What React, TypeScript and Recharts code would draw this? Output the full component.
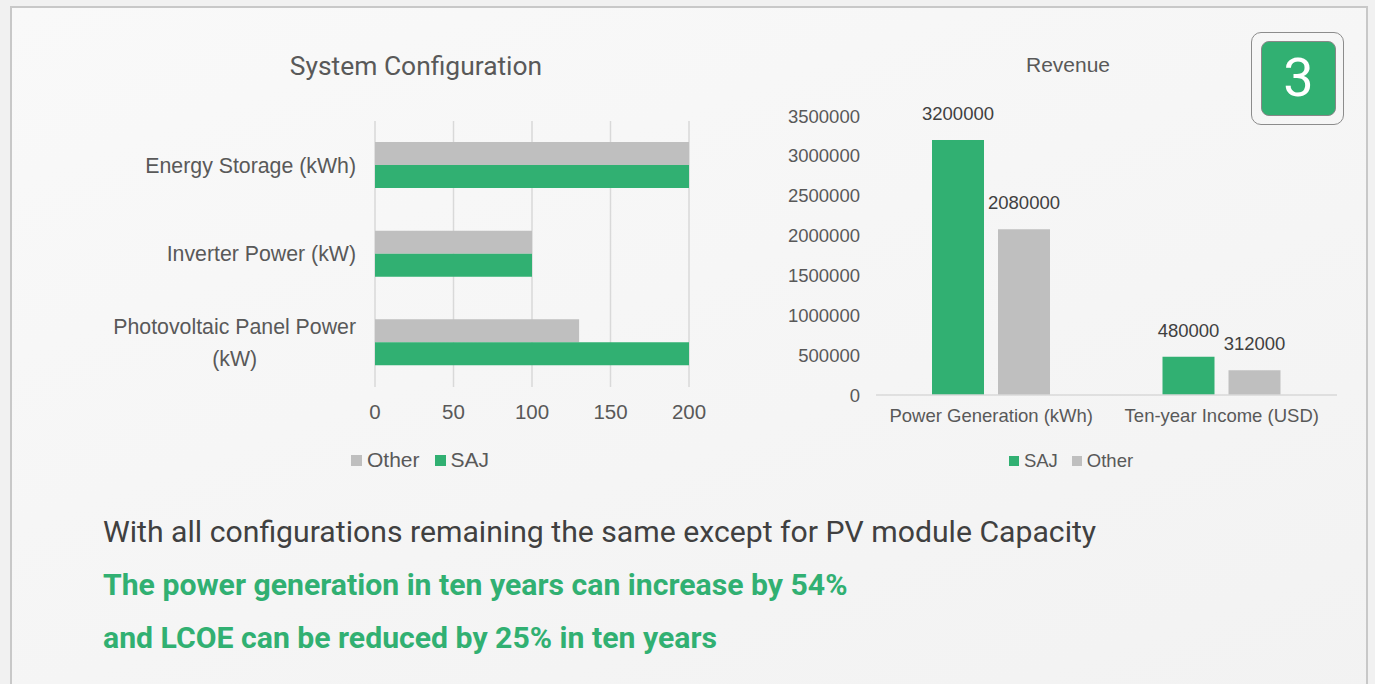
import React from "react";
import { BarChart, Bar, XAxis, YAxis, CartesianGrid, Legend, LabelList } from "recharts";

// System Configuration (horizontal bars)
const configCategories = ["Energy Storage (kWh)", "Inverter Power (kW)", "Photovoltaic Panel Power (kW)"];
const configOther = [200, 100, 130];
const configSaj = [200, 100, 200];
const configTicks = [0, 50, 100, 150, 200];

// Revenue (vertical bars)
const revenueCategories = ["Power Generation (kWh)", "Ten-year Income (USD)"];
const revenueSaj = [3200000, 480000];
const revenueOther = [2080000, 312000];
const revenueTicks = [0, 500000, 1000000, 1500000, 2000000, 2500000, 3000000, 3500000];

const GREEN = "#31b072";
const GRAY = "#bfbfbf";
const TEXT = "#595959";
const ARIAL = '"Liberation Sans", Arial, sans-serif';

const configData = configCategories.map((name, i) => ({ name, other: configOther[i], saj: configSaj[i] }));
const revenueData = revenueCategories.map((name, i) => ({ name, saj: revenueSaj[i], other: revenueOther[i] }));

let ctx: CanvasRenderingContext2D | null = null;
const measure = (s: string, font: string) => {
    if (!ctx) ctx = document.createElement("canvas").getContext("2d");
    if (!ctx) return s.length * 10;
    ctx.font = font;
    return ctx.measureText(s).width;
};

// wrap a category label the way the spreadsheet does
const wrapLabel = (label: string, maxWidth: number, font: string) => {
    const words = label.split(" ");
    const lines: string[] = [];
    let cur = "";
    words.forEach((w) => {
        const next = cur ? cur + " " + w : w;
        if (cur && measure(next, font) > maxWidth) {
            lines.push(cur);
            cur = w;
        } else {
            cur = next;
        }
    });
    if (cur) lines.push(cur);
    return lines;
};

function CategoryTick({ x, y, payload }: any) {
    const size = 21.3;
    const font = `${size}px ${ARIAL}`;
    const lines = wrapLabel(payload.value, 255, font);
    const lineH = 32;
    const startY = y - ((lines.length - 1) * lineH) / 2;
    if (lines.length === 1) {
        return (
            <text x={x} y={y} dy="0.35em" textAnchor="end" fontSize={size} fontFamily={ARIAL} fill={TEXT}>
                {payload.value}
            </text>
        );
    }
    const blockW = Math.max(...lines.map((l) => measure(l, font)));
    return (
        <g>
            {lines.map((l, i) => (
                <text key={i} x={x - blockW / 2} y={startY + i * lineH} dy="0.35em" textAnchor="middle" fontSize={size} fontFamily={ARIAL} fill={TEXT}>
                    {l}
                </text>
            ))}
        </g>
    );
}

function SquareLegend({ items, size, fontSize, gap }: { items: { label: string; color: string }[]; size: number; fontSize: number; gap: number }) {
    return (
        <div style={{ display: "flex", justifyContent: "center", alignItems: "center", fontFamily: ARIAL, fontSize, color: TEXT }}>
            {items.map((it, i) => (
                <div key={it.label} style={{ display: "flex", alignItems: "center", marginLeft: i ? gap : 0 }}>
                    <span style={{ display: "inline-block", width: size, height: size, background: it.color, marginRight: 5 }} />
                    <span>{it.label}</span>
                </div>
            ))}
        </div>
    );
}

export default function App() {
    return (
        <div style={{ position: "absolute", left: 0, top: 0, width: 1375, height: 684, overflow: "hidden", background: "#f1f1f1" }}>
            <div
                style={{
                    position: "absolute",
                    left: 10,
                    top: 6,
                    width: 1354,
                    height: 720,
                    border: "2px solid #c8c8c8",
                    background: "linear-gradient(160deg, #f9f9f9 0%, #f2f2f2 100%)",
                }}
            />

            {/* System Configuration */}
            <div style={{ position: "absolute", left: 216, top: 51, width: 400, textAlign: "center", fontFamily: "Roboto, sans-serif", fontSize: 26.4, color: TEXT }}>
                System Configuration
            </div>
            <div style={{ position: "absolute", left: 0, top: 0 }}>
                <BarChart width={720} height={500} data={configData} layout="vertical" margin={{ top: 121, right: 31, left: 0, bottom: 83 }} barGap={0}>
                    <CartesianGrid horizontal={false} stroke="#d9d9d9" strokeWidth={1.5} />
                    <XAxis
                        type="number"
                        domain={[0, 200]}
                        ticks={configTicks}
                        height={30}
                        axisLine={false}
                        tickLine={false}
                        tickMargin={11}
                        tick={{ fontSize: 20.5, fill: TEXT, fontFamily: ARIAL }}
                    />
                    <YAxis type="category" dataKey="name" width={375} axisLine={false} tickLine={false} tickMargin={13} tick={<CategoryTick />} />
                    <Legend
                        layout="horizontal"
                        verticalAlign="middle"
                        align="center"
                        wrapperStyle={{ left: 270, top: 448, width: 300 }}
                        content={() => (
                            <SquareLegend
                                size={11}
                                fontSize={21}
                                gap={15}
                                items={[
                                    { label: "Other", color: GRAY },
                                    { label: "SAJ", color: GREEN },
                                ]}
                            />
                        )}
                    />
                    <Bar dataKey="other" name="Other" fill={GRAY} barSize={23} isAnimationActive={false} />
                    <Bar dataKey="saj" name="SAJ" fill={GREEN} barSize={23} isAnimationActive={false} />
                </BarChart>
            </div>

            {/* Revenue */}
            <div style={{ position: "absolute", left: 918, top: 53, width: 300, textAlign: "center", fontFamily: ARIAL, fontSize: 21, color: TEXT }}>
                Revenue
            </div>
            <div style={{ position: "absolute", left: 740, top: 0 }}>
                <BarChart width={640} height={500} data={revenueData} margin={{ top: 116, right: 43, left: 0, bottom: 65 }} barGap={14}>
                    <XAxis
                        dataKey="name"
                        height={40}
                        axisLine={{ stroke: "#d9d9d9", strokeWidth: 1.5 }}
                        tickLine={false}
                        tickMargin={8}
                        tick={{ fontSize: 18.5, fill: TEXT, fontFamily: ARIAL }}
                    />
                    <YAxis
                        type="number"
                        domain={[0, 3500000]}
                        ticks={revenueTicks}
                        interval={0}
                        width={136}
                        axisLine={false}
                        tickLine={false}
                        tickMargin={10}
                        tick={{ fontSize: 18.5, fill: TEXT, fontFamily: ARIAL }}
                    />
                    <Legend
                        layout="horizontal"
                        verticalAlign="middle"
                        align="center"
                        wrapperStyle={{ left: 181, top: 450, width: 300 }}
                        content={() => (
                            <SquareLegend
                                size={10}
                                fontSize={18.5}
                                gap={14}
                                items={[
                                    { label: "SAJ", color: GREEN },
                                    { label: "Other", color: GRAY },
                                ]}
                            />
                        )}
                    />
                    <Bar dataKey="saj" name="SAJ" fill={GREEN} barSize={52} isAnimationActive={false}>
                        <LabelList dataKey="saj" position="top" offset={20} fill="#404040" fontSize={18.5} fontFamily={ARIAL} />
                    </Bar>
                    <Bar dataKey="other" name="Other" fill={GRAY} barSize={52} isAnimationActive={false}>
                        <LabelList dataKey="other" position="top" offset={20} fill="#404040" fontSize={18.5} fontFamily={ARIAL} />
                    </Bar>
                </BarChart>
            </div>

            {/* badge */}
            <div style={{ position: "absolute", left: 1251, top: 32, width: 93, height: 93, border: "1.5px solid #8c8c8c", borderRadius: 10, boxSizing: "border-box" }} />
            <div
                style={{
                    position: "absolute",
                    left: 1261,
                    top: 41,
                    width: 75,
                    height: 75,
                    background: GREEN,
                    border: "1px solid #888",
                    borderRadius: 8,
                    boxSizing: "border-box",
                    color: "#fff",
                    fontFamily: "Roboto, sans-serif",
                    fontSize: 54,
                    lineHeight: "71px",
                    textAlign: "center",
                }}
            >
                3
            </div>

            {/* notes */}
            <div style={{ position: "absolute", left: 103, top: 514, fontFamily: "Roboto, sans-serif", fontSize: 30.2, color: "#404040", whiteSpace: "nowrap" }}>
                With all configurations remaining the same except for PV module Capacity
            </div>
            <div style={{ position: "absolute", left: 103, top: 567, fontFamily: "Roboto, sans-serif", fontWeight: 700, fontSize: 30.2, color: GREEN, whiteSpace: "nowrap" }}>
                The power generation in ten years can increase by 54%
            </div>
            <div style={{ position: "absolute", left: 103, top: 620, fontFamily: "Roboto, sans-serif", fontWeight: 700, fontSize: 30.2, color: GREEN, whiteSpace: "nowrap" }}>
                and LCOE can be reduced by 25% in ten years
            </div>
        </div>
    );
}
